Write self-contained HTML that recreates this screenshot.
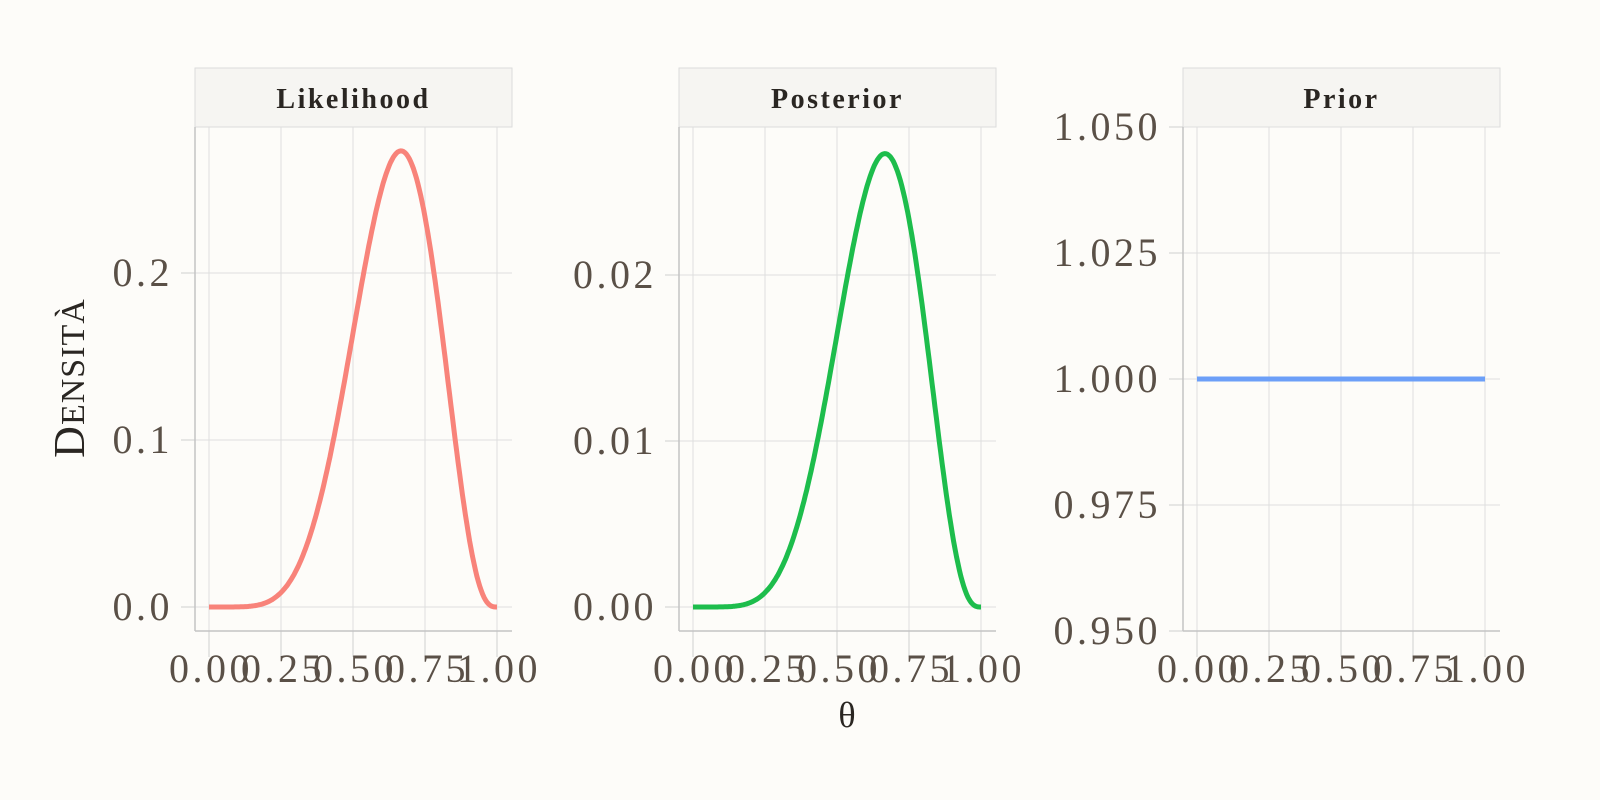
<!DOCTYPE html>
<html><head><meta charset="utf-8"><style>
html,body{margin:0;padding:0;background:#fdfcf9;}
svg{display:block;font-family:"Liberation Serif",serif;}
</style></head><body>
<svg id="s" width="1600" height="800" xmlns="http://www.w3.org/2000/svg">
<rect width="1600" height="800" fill="#fdfcf9"/>
<text transform="translate(84,378) rotate(-90)" text-anchor="middle" font-size="44" letter-spacing="1" fill="#2a2622">D<tspan font-size="34">ENSITÀ</tspan></text>
<text x="847" y="727" text-anchor="middle" font-size="36" fill="#2a2622">θ</text>
</svg>
<script>
var s=document.getElementById('s'),NS='http://www.w3.org/2000/svg';
function el(t,a,txt){var e=document.createElementNS(NS,t);for(var k in a)e.setAttribute(k,a[k]);if(txt!=null)e.textContent=txt;s.appendChild(e);return e;}
function lik(p){return 84*Math.pow(p,6)*Math.pow(1-p,3);}
var panels=[
 {x0:195,title:'Likelihood',ticks:[[0,'0.0'],[0.1,'0.1'],[0.2,'0.2']],y0:607,sc:1670,f:lik,col:'#f8837a'},
 {x0:679,title:'Posterior',ticks:[[0,'0.00'],[0.01,'0.01'],[0.02,'0.02']],y0:607,sc:16600,f:function(p){return lik(p)/10;},col:'#1dbd4c'},
 {x0:1183,title:'Prior',ticks:[[0.95,'0.950'],[0.975,'0.975'],[1,'1.000'],[1.025,'1.025'],[1.05,'1.050']],y0:379,sc:5040,base:1,f:function(){return 1;},col:'#6c9ff8'}
];
panels.forEach(function(P){
 var x0=P.x0,x1=x0+317,top=127,bot=631,base=P.base||0;
 function Y(v){return P.y0-(v-base)*P.sc;}
 function X(p){return x0+14+p*288;}
 el('rect',{x:x0,y:68,width:317,height:59,fill:'#f6f5f2',stroke:'#dcdcdc','stroke-width':1});
 el('text',{x:x0+158.5,y:108,'text-anchor':'middle','font-size':28,'font-weight':'bold','letter-spacing':2.5,fill:'#2a2622'},P.title);
 for(var i=0;i<5;i++){var xx=X(i/4);
  el('line',{x1:xx,y1:top,x2:xx,y2:bot,stroke:'#dedede','stroke-width':1});
  el('line',{x1:xx,y1:bot,x2:xx,y2:657,stroke:'#cfcfcf','stroke-width':1});
  el('text',{x:xx+2,y:682,'text-anchor':'middle','font-size':40,'letter-spacing':3.5,fill:'#5a5047'},(i/4).toFixed(2));}
 P.ticks.forEach(function(t){var yy=Y(t[0]);
  el('line',{x1:x0,y1:yy,x2:x1,y2:yy,stroke:'#dedede','stroke-width':1});
  el('line',{x1:x0-14,y1:yy,x2:x0,y2:yy,stroke:'#cfcfcf','stroke-width':1});
  el('text',{x:x0-22,y:yy+13,'text-anchor':'end','font-size':40,'letter-spacing':3.5,fill:'#5a5047'},t[1]);});
 el('line',{x1:x0,y1:top,x2:x0,y2:bot,stroke:'#c4c4c4','stroke-width':1.5});
 el('line',{x1:x0,y1:bot,x2:x1,y2:bot,stroke:'#c4c4c4','stroke-width':1.5});
 var d='';for(var k=0;k<=200;k++){var p=k/200;d+=(k?'L':'M')+X(p).toFixed(1)+','+Y(P.f(p)).toFixed(1);}
 el('path',{d:d,fill:'none',stroke:P.col,'stroke-width':5,'stroke-linejoin':'round'});
});
</script>
</body></html>
